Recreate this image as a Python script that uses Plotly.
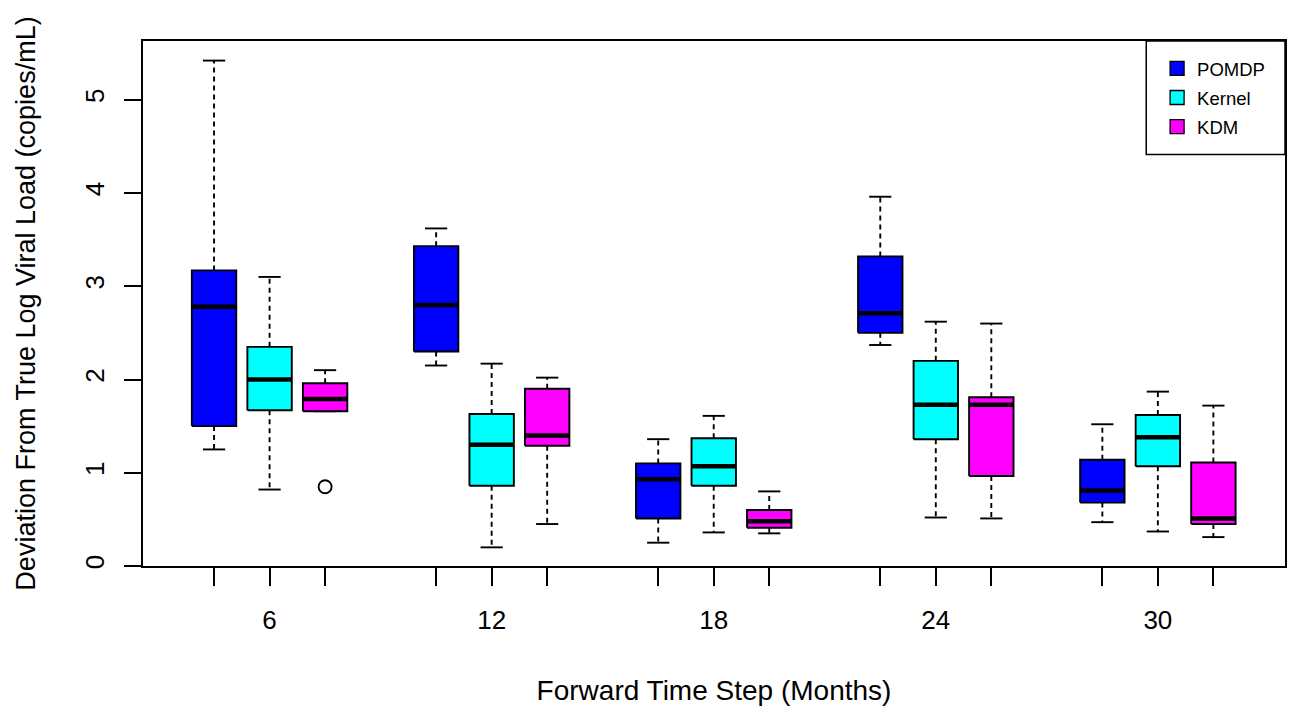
import plotly.graph_objects as go

# ---- data ----
time_steps = ["6", "12", "18", "24", "30"]
series_names = ["POMDP", "Kernel", "KDM"]
series_colors = ["#0000FF", "#00FFFF", "#FF00FF"]

pomdp_hi = [5.42, 3.62, 1.36, 3.96, 1.52]
pomdp_q3 = [3.17, 3.43, 1.10, 3.32, 1.14]
pomdp_med = [2.78, 2.80, 0.93, 2.71, 0.81]
pomdp_q1 = [1.50, 2.30, 0.51, 2.50, 0.68]
pomdp_lo = [1.25, 2.15, 0.25, 2.37, 0.47]

kernel_hi = [3.10, 2.17, 1.61, 2.62, 1.87]
kernel_q3 = [2.35, 1.63, 1.37, 2.20, 1.62]
kernel_med = [2.00, 1.30, 1.07, 1.73, 1.38]
kernel_q1 = [1.67, 0.86, 0.86, 1.36, 1.07]
kernel_lo = [0.82, 0.20, 0.36, 0.52, 0.37]

kdm_hi = [2.10, 2.02, 0.80, 2.60, 1.72]
kdm_q3 = [1.96, 1.90, 0.60, 1.81, 1.11]
kdm_med = [1.79, 1.40, 0.48, 1.73, 0.51]
kdm_q1 = [1.66, 1.29, 0.41, 0.965, 0.45]
kdm_lo = [1.66, 0.45, 0.35, 0.51, 0.31]

kdm_outlier_step = ["6"]
kdm_outlier_val = [0.85]

stats = [
    (pomdp_lo, pomdp_q1, pomdp_med, pomdp_q3, pomdp_hi),
    (kernel_lo, kernel_q1, kernel_med, kernel_q3, kernel_hi),
    (kdm_lo, kdm_q1, kdm_med, kdm_q3, kdm_hi),
]

FONT = "Liberation Sans, Arial, Helvetica, sans-serif"
HALF = 0.40      # half box width (R boxwex 0.8)
STAPLE = 0.20    # half staple width
LW = 1.9

def pos(gi, si):
    return gi * 4 + si + 1

fig = go.Figure()

for si, (name, color) in enumerate(zip(series_names, series_colors)):
    lo, q1, med, q3, hi = stats[si]
    bx, by, wx, wy, sx, sy, mx, my = [], [], [], [], [], [], [], []
    for gi in range(len(time_steps)):
        p = pos(gi, si)
        bx += [p - HALF, p + HALF, p + HALF, p - HALF, p - HALF, None]
        by += [q1[gi], q1[gi], q3[gi], q3[gi], q1[gi], None]
        wx += [p, p, None, p, p, None]
        wy += [q3[gi], hi[gi], None, q1[gi], lo[gi], None]
        sx += [p - STAPLE, p + STAPLE, None, p - STAPLE, p + STAPLE, None]
        sy += [hi[gi], hi[gi], None, lo[gi], lo[gi], None]
        mx += [p - HALF, p + HALF, None]
        my += [med[gi], med[gi], None]
    # dashed whiskers
    fig.add_trace(go.Scatter(x=wx, y=wy, mode="lines", showlegend=False,
                             line=dict(color="black", width=LW, dash="5px,4px"),
                             hoverinfo="skip"))
    # staples
    fig.add_trace(go.Scatter(x=sx, y=sy, mode="lines", showlegend=False,
                             line=dict(color="black", width=LW), hoverinfo="skip"))
    # boxes
    fig.add_trace(go.Scatter(x=bx, y=by, mode="lines", fill="toself",
                             fillcolor=color, showlegend=False,
                             line=dict(color="black", width=LW), hoverinfo="skip"))
    # medians
    fig.add_trace(go.Scatter(x=mx, y=my, mode="lines", showlegend=False,
                             line=dict(color="black", width=4.5), hoverinfo="skip"))

# outlier
fig.add_trace(go.Scatter(
    x=[pos(time_steps.index(s), 2) for s in kdm_outlier_step], y=kdm_outlier_val,
    mode="markers", showlegend=False,
    marker=dict(symbol="circle-open", size=13, color="black", line=dict(width=LW))))

# legend entries
for name, color in zip(series_names, series_colors):
    fig.add_trace(go.Scatter(
        x=[None], y=[None], mode="markers", name=name, legendgroup=name,
        marker=dict(symbol="square", size=14, color=color,
                    line=dict(color="black", width=1.3))))

tickvals, ticktext = [], []
for gi, lab in enumerate(time_steps):
    for si in range(3):
        tickvals.append(pos(gi, si))
        ticktext.append(lab if si == 1 else "")

fig.update_layout(
    width=1293, height=707,
    margin=dict(l=143, r=6, t=41, b=138),
    paper_bgcolor="white", plot_bgcolor="white",
    font=dict(family=FONT, color="black"),
    showlegend=True,
    legend=dict(x=0.888, y=0.983, xanchor="left", yanchor="top",
                bgcolor="rgba(0,0,0,0)", borderwidth=0,
                font=dict(size=18.5, family=FONT),
                traceorder="grouped", tracegroupgap=2, itemwidth=30),
    shapes=[dict(type="rect", xref="paper", yref="paper",
                 x0=0.8785, x1=1.0, y0=0.784, y1=1.0,
                 line=dict(color="black", width=1.5))],
    xaxis=dict(range=[-0.28, 20.29], tickmode="array", tickvals=tickvals,
               ticktext=ticktext, ticks="outside", ticklen=18, tickwidth=1.7,
               tickcolor="black", showline=True, mirror=True, linecolor="black",
               linewidth=1.7, showgrid=False, zeroline=False,
               tickfont=dict(size=26, family=FONT), ticklabelstandoff=12,
               title=dict(text="Forward Time Step (Months)",
                          font=dict(size=28, family=FONT), standoff=46)),
    yaxis=dict(range=[0, 5.63], tickmode="array", tickvals=[0, 1, 2, 3, 4, 5],
               ticktext=["0", "1", "2", "3", "4", "5"], tickangle=-90,
               ticks="outside", ticklen=17, tickwidth=1.7, tickcolor="black",
               showline=True, mirror=True, linecolor="black", linewidth=1.7,
               showgrid=False, zeroline=False,
               tickfont=dict(size=26, family=FONT), ticklabelstandoff=10,
               title=dict(text="Deviation From True Log Viral Load (copies/mL)",
                          font=dict(size=27, family=FONT), standoff=36)),
)

fig.write_html("out.html")
